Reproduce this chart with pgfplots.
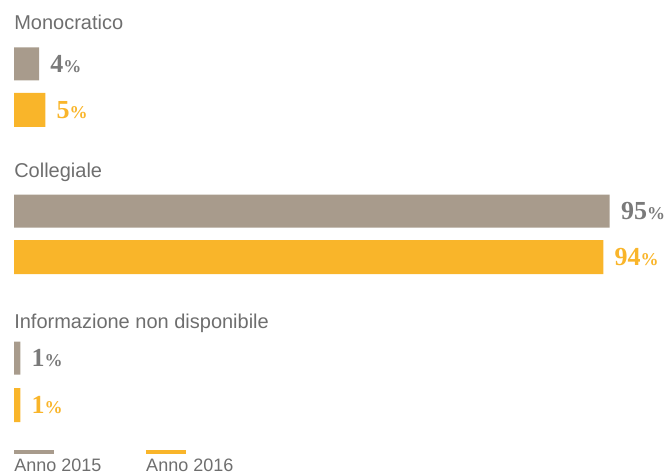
\documentclass[border=0pt]{standalone}
\usepackage{pgfplots}
\pgfplotsset{compat=1.18}
\usepackage{fontspec}
\setmainfont{Liberation Sans}
\newfontfamily\numfont{Liberation Serif}
\definecolor{cgray}{HTML}{A89B8C}
\definecolor{corange}{HTML}{F9B52A}
\definecolor{tgray}{HTML}{6E6E6E}
\definecolor{vgray}{HTML}{7A7A7A}
\begin{document}
\begin{tikzpicture}
\begin{axis}[
  scale only axis, width=502.5pt, height=355.5pt,
  hide axis, clip=false,
  xmin=-2.233, xmax=104.63, ymin=0, ymax=474, y dir=reverse,
  xbar, bar shift=0pt, point meta=x,
  /pgf/number format/assume math mode=true,
  nodes near coords={\pgfmathprintnumber{\pgfplotspointmeta}{\fontsize{13.5}{13.5}\selectfont\%}},
  every node near coord/.append style={anchor=west, xshift=5pt, font=\numfont\bfseries\fontsize{19.5}{19.5}\selectfont},
]
\path (rel axis cs:0,0) rectangle (rel axis cs:1,1);
\addplot[fill=cgray, draw=none, bar width=33, every node near coord/.append style={text=vgray}]
  coordinates {(4,64) (95,211) (1,358)};
\addplot[fill=corange, draw=none, bar width=34, every node near coord/.append style={text=corange}]
  coordinates {(5,110) (94,257) (1,405)};
\node[anchor=west, inner sep=0pt, text=tgray, font=\fontsize{15}{15}\selectfont] at (axis cs:0,22) {Monocratico};
\node[anchor=west, inner sep=0pt, text=tgray, font=\fontsize{15}{15}\selectfont] at (axis cs:0,172) {Collegiale};
\node[anchor=west, inner sep=0pt, text=tgray, font=\fontsize{15}{15}\selectfont] at (axis cs:0,323) {Informazione non disponibile};
\draw[cgray, line width=2.6pt] (axis cs:0,452) -- (axis cs:6.38,452);
\draw[corange, line width=2.6pt] (axis cs:21.05,452) -- (axis cs:27.43,452);
\node[anchor=west, inner sep=0pt, text=tgray, font=\fontsize{13.5}{13.5}\selectfont] at (axis cs:0,465) {Anno 2015};
\node[anchor=west, inner sep=0pt, text=tgray, font=\fontsize{13.5}{13.5}\selectfont] at (axis cs:21.05,465) {Anno 2016};
\end{axis}
\end{tikzpicture}
\end{document}
